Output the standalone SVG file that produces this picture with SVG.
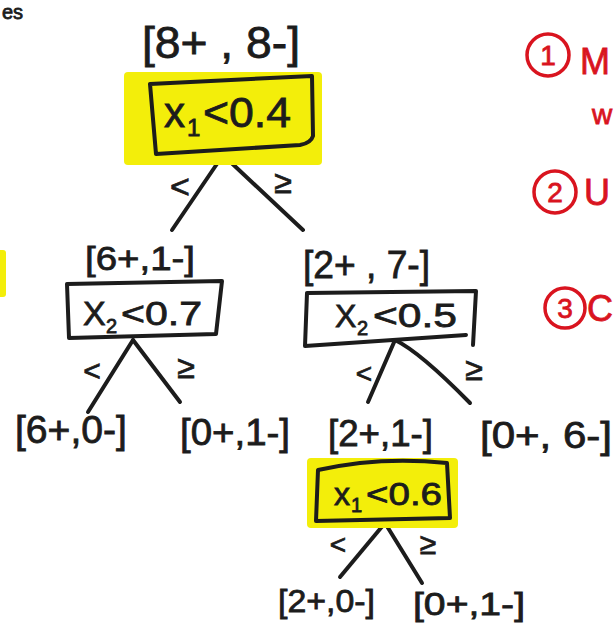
<svg xmlns="http://www.w3.org/2000/svg" width="615" height="623" viewBox="0 0 615 623">
<style>
.t{font-family:"Liberation Sans","DejaVu Sans",sans-serif;fill:#1c1c1c;stroke:#1c1c1c;stroke-width:0.8}
.box{fill:none;stroke:#1c1c1c;stroke-width:4;stroke-linejoin:round;stroke-linecap:round}
.hl{fill:#f3ee0a}
.edge{stroke:#1c1c1c;stroke-width:4;stroke-linecap:round;fill:none}
.red{fill:none;stroke:#d9141f;stroke-width:3.5}
.rt{font-family:"Liberation Sans","DejaVu Sans",sans-serif;fill:#d9141f;stroke:#d9141f;stroke-width:0.8}
</style>
<rect width="615" height="623" fill="#ffffff"/>
<text class="t" x="2" y="19" font-size="20">es</text>
<rect class="hl" x="-6" y="250" width="12" height="47" rx="3"/>

<g id="connectors">
  <path class="edge" d="M223,155 L172,230"/>
  <path class="edge" d="M223,155 L303,230"/>
  <path class="edge" d="M133,340 L88,412"/>
  <path class="edge" d="M133,340 L180,402"/>
  <path class="edge" d="M395,340 L368,402"/>
  <path class="edge" d="M395,340 Q420,352 470,403"/>
  <path class="edge" d="M385,523 L340,577"/>
  <path class="edge" d="M385,523 L422,583"/>
  <text class="t" x="180" y="198" font-size="34" text-anchor="middle">&lt;</text>
  <text class="t" x="283" y="193" font-size="32" text-anchor="middle">≥</text>
  <text class="t" x="92" y="381" font-size="30" text-anchor="middle">&lt;</text>
  <text class="t" x="186" y="378" font-size="32" text-anchor="middle">≥</text>
  <text class="t" x="364" y="383" font-size="28" text-anchor="middle">&lt;</text>
  <text class="t" x="474" y="380" font-size="32" text-anchor="middle">≥</text>
  <text class="t" x="338" y="554" font-size="28" text-anchor="middle">&lt;</text>
  <text class="t" x="428" y="554" font-size="30" text-anchor="middle">≥</text>
</g>

<g id="root">
  <text class="t" x="142" y="58" font-size="44" textLength="158" lengthAdjust="spacingAndGlyphs">[8+ , 8-]</text>
  <rect class="hl" x="124" y="72" width="198" height="93" rx="4"/>
  <path class="box" d="M150,84 L312,76 L313,136 Q311,143 300,145 L156,154 Z"/>
  <text class="t" x="164" y="127" font-size="42">x</text>
  <text class="t" x="187" y="136" font-size="24">1</text>
  <text class="t" x="203" y="127" font-size="42" textLength="88" lengthAdjust="spacingAndGlyphs">&lt;0.4</text>
</g>

<g id="n_x2_07">
  <text class="t" x="85" y="270" font-size="34" textLength="110" lengthAdjust="spacingAndGlyphs">[6+,1-]</text>
  <path class="box" d="M67,284 L222,281 L216,334 L69,338 Z"/>
  <text class="t" x="83" y="325" font-size="34">X</text>
  <text class="t" x="106" y="333" font-size="20">2</text>
  <text class="t" x="121" y="325" font-size="34" textLength="81" lengthAdjust="spacingAndGlyphs">&lt;0.7</text>
</g>

<g id="n_x2_05">
  <text class="t" x="303" y="278" font-size="38" textLength="127" lengthAdjust="spacingAndGlyphs">[2+ , 7-]</text>
  <path class="box" d="M307,293 L476,291 L473,345 M307,293 L305,346 L466,335"/>
  <text class="t" x="335" y="327" font-size="32">X</text>
  <text class="t" x="357" y="335" font-size="20">2</text>
  <text class="t" x="373" y="327" font-size="34" textLength="84" lengthAdjust="spacingAndGlyphs">&lt;0.5</text>
</g>

<g id="leaf_6_0">
  <text class="t" x="15" y="443" font-size="38" textLength="112" lengthAdjust="spacingAndGlyphs">[6+,0-]</text>
</g>
<g id="leaf_0_1a">
  <text class="t" x="180" y="445" font-size="36" textLength="110" lengthAdjust="spacingAndGlyphs">[0+,1-]</text>
</g>
<g id="leaf_2_1">
  <text class="t" x="328" y="446" font-size="36" textLength="105" lengthAdjust="spacingAndGlyphs">[2+,1-]</text>
</g>
<g id="leaf_0_6">
  <text class="t" x="480" y="448" font-size="36" textLength="132" lengthAdjust="spacingAndGlyphs">[0+, 6-]</text>
</g>

<g id="n_x1_06">
  <rect class="hl" x="307" y="458" width="151" height="70" rx="4"/>
  <path class="box" d="M318,470 Q380,456 447,463 L450,518 L316,521 Z"/>
  <text class="t" x="334" y="505" font-size="32">x</text>
  <text class="t" x="351" y="512" font-size="20">1</text>
  <text class="t" x="366" y="505" font-size="32" textLength="76" lengthAdjust="spacingAndGlyphs">&lt;0.6</text>
</g>

<g id="leaf_2_0">
  <text class="t" x="278" y="612" font-size="32" textLength="97" lengthAdjust="spacingAndGlyphs">[2+,0-]</text>
</g>
<g id="leaf_0_1b">
  <text class="t" x="413" y="615" font-size="32" textLength="112" lengthAdjust="spacingAndGlyphs">[0+,1-]</text>
</g>

<g id="notes">
  <circle class="red" cx="548" cy="55" r="21"/>
  <text class="rt" x="548" y="65" font-size="28" text-anchor="middle">1</text>
  <text class="rt" x="580" y="74" font-size="36">M</text>
  <text class="rt" x="592" y="124" font-size="28">w</text>
  <circle class="red" cx="555" cy="192" r="21"/>
  <text class="rt" x="555" y="202" font-size="28" text-anchor="middle">2</text>
  <text class="rt" x="584" y="205" font-size="36">U</text>
  <circle class="red" cx="565" cy="308" r="20"/>
  <text class="rt" x="565" y="318" font-size="28" text-anchor="middle">3</text>
  <text class="rt" x="587" y="321" font-size="36">C</text>
</g>
</svg>
